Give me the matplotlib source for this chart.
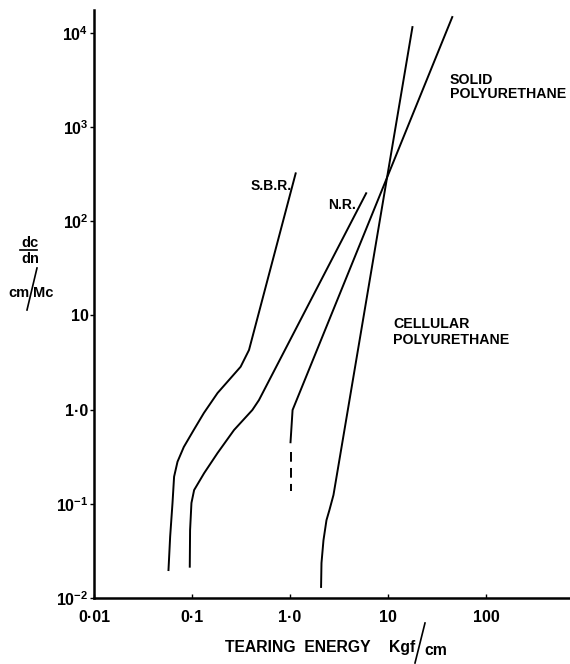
import matplotlib
matplotlib.use('Agg')
import matplotlib.pyplot as plt
from matplotlib.lines import Line2D

plt.rcParams['mathtext.fontset'] = 'custom'
plt.rcParams['mathtext.rm'] = 'Liberation Sans:bold'
plt.rcParams['mathtext.bf'] = 'Liberation Sans:bold'
plt.rcParams['mathtext.it'] = 'Liberation Sans:bold'
plt.rcParams['lines.scale_dashes'] = False

# curves (tearing energy Kgf/cm, dc/dn cm/Mc)
sbr_x = [0.0575, 0.0598, 0.0632, 0.0656, 0.0711, 0.0824, 0.104, 0.132, 0.182, 0.238, 0.313, 0.381, 1.14]
sbr_y = [0.0198, 0.0448, 0.102, 0.194, 0.280, 0.401, 0.607, 0.92, 1.50, 2.06, 2.85, 4.29, 322]

nr_x = [0.0948, 0.0955, 0.0986, 0.105, 0.133, 0.182, 0.268, 0.412, 0.481, 5.97]
nr_y = [0.0215, 0.0527, 0.102, 0.140, 0.212, 0.346, 0.607, 0.99, 1.26, 198]

cell_x = [1.01, 1.06, 45.1]
cell_y = [0.45, 0.99, 14700]
cell_dash_x = [1.01, 1.01]
cell_dash_y = [0.355, 0.137]

solid_x = [2.07, 2.09, 2.19, 2.35, 2.52, 2.77, 17.7]
solid_y = [0.0131, 0.0235, 0.041, 0.067, 0.086, 0.124, 11500]

xticks = [0.01, 0.1, 1.0, 10, 100]
xlabels = ['0·01', '0·1', '1·0', '10', '100']
yticks = [0.01, 0.1, 1.0, 10, 100, 1000, 10000]
ylabels = [r'$10^{-2}$', r'$10^{-1}$', '1·0', '10', r'$10^{2}$', r'$10^{3}$', r'$10^{4}$']

W, H = 570, 664
def P(x, y):
	return x / W, 1 - y / H

fig = plt.figure(figsize=(W/100, H/100), dpi=100)
ax = fig.add_axes([94/W, 66/H, 476/W, 588/H])
ax.set_xscale('log'); ax.set_yscale('log')
ax.set_xlim(0.0102, 716)
ax.set_ylim(0.01, 17460)

lw = 1.4
ax.plot(sbr_x, sbr_y, color='black', lw=lw)
ax.plot(nr_x, nr_y, color='black', lw=lw)
ax.plot(cell_x, cell_y, color='black', lw=lw)
ax.plot(cell_dash_x, cell_dash_y, color='black', lw=lw, linestyle=(0, (7, 4.5)))
ax.plot(solid_x, solid_y, color='black', lw=lw)

for s in ['top', 'right']:
	ax.spines[s].set_visible(False)
for s in ['left', 'bottom']:
	ax.spines[s].set_linewidth(1.8)

ax.minorticks_off()
ax.set_xticks(xticks)
ax.set_xticklabels(xlabels)
ax.set_yticks(yticks)
ax.set_yticklabels(ylabels)
ax.tick_params(axis='x', direction='in', length=3, width=1, pad=9)
ax.tick_params(axis='y', direction='out', length=3, width=1, pad=1)
for t in ax.get_xticklabels() + ax.get_yticklabels():
	t.set_fontfamily(['Liberation Sans', 'DejaVu Sans'])
	t.set_fontweight('bold')
	t.set_fontsize(11.5)

lab = dict(family=['Liberation Sans', 'DejaVu Sans'], weight='bold', color='black', va='baseline', ha='left')
fig.text(*P(450, 84), 'SOLID', fontsize=10.2, **lab)
fig.text(*P(450, 98), 'POLYURETHANE', fontsize=10.2, **lab)
fig.text(*P(393, 328), 'CELLULAR', fontsize=10.2, **lab)
fig.text(*P(393, 344), 'POLYURETHANE', fontsize=10.2, **lab)
fig.text(*P(251, 190), 'S.B.R.', fontsize=10, **lab)
fig.text(*P(328, 209), 'N.R.', fontsize=10, **lab)

# x axis title
fig.text(*P(225, 652), 'TEARING  ENERGY', fontsize=11.3, **lab)
fig.text(*P(389, 652), 'Kgf', fontsize=11.3, **lab)
fig.text(*P(424, 655), 'cm', fontsize=11.3, **lab)
fig.add_artist(Line2D([415/W, 425/W], [1-663/H, 1-623/H], color='black', lw=1.2))

# y axis title
fig.text(*P(21, 247), 'dc', fontsize=10.5, **lab)
fig.add_artist(Line2D([20/W, 37/W], [1-250/H, 1-250/H], color='black', lw=1.2))
fig.text(*P(21, 263), 'dn', fontsize=10.5, **lab)
fig.text(*P(8, 297), 'cm', fontsize=10.5, **lab)
fig.text(*P(33, 297), 'Mc', fontsize=10.5, **lab)
fig.add_artist(Line2D([27/W, 37/W], [1-310/H, 1-268/H], color='black', lw=1.2))

fig.savefig('out.png', dpi=100)
